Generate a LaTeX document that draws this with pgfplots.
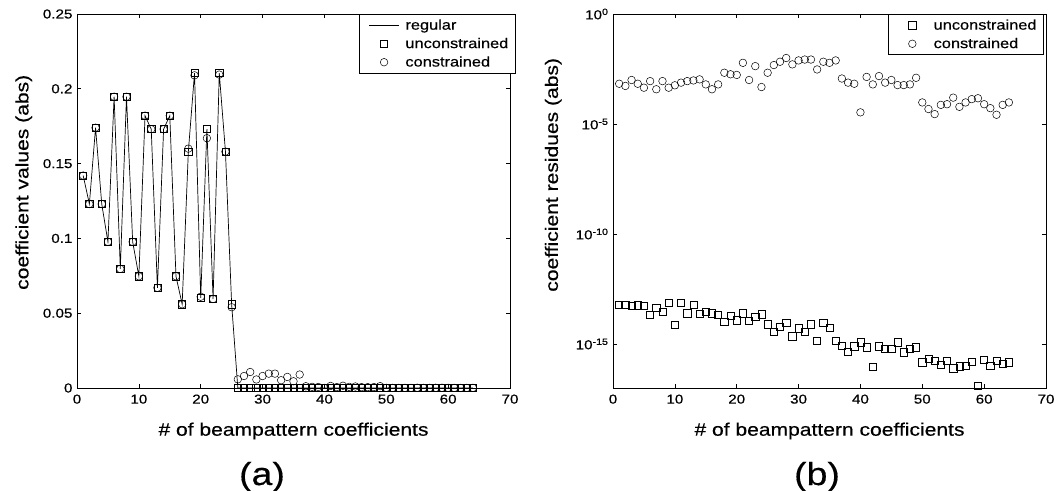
\documentclass[border=0pt]{standalone}
\usepackage{fontspec}
\setmainfont{Liberation Sans}[FakeStretch=1.17, FakeBold=0.4]
\usepackage{pgfplots}
\pgfplotsset{compat=1.18}

\pgfplotstableread{
x reg con
1 0.142 0.142
2 0.123 0.123
3 0.174 0.174
4 0.123 0.123
5 0.0977 0.0977
6 0.1947 0.1947
7 0.0796 0.0796
8 0.1947 0.1947
9 0.0977 0.0977
10 0.0747 0.0747
11 0.182 0.182
12 0.173 0.173
13 0.067 0.067
14 0.173 0.173
15 0.182 0.182
16 0.0747 0.0747
17 0.056 0.056
18 0.158 0.160
19 0.2105 0.209
20 0.0602 0.061
21 0.173 0.167
22 0.0595 0.0595
23 0.2105 0.2095
24 0.158 0.158
25 0.056 0.054
26 0 0.0058
27 0 0.0080
28 0 0.0107
29 0 0.0057
30 0 0.0080
31 0 0.0096
32 0 0.0096
33 0 0.0052
34 0 0.0074
35 0 0.0045
36 0 0.0090
37 0 0.00117
38 0 0.00076
39 0 0.00068
40 0 0.00003
41 0 0.00138
42 0 0.00063
43 0 0.00151
44 0 0.00076
45 0 0.0010
46 0 0.00059
47 0 0.00059
48 0 0.00063
49 0 0.00126
50 0 0.0000955
51 0 0.0000479
52 0 0.0000282
53 0 0.0000741
54 0 0.0000794
55 0 0.000158
56 0 0.0000603
57 0 0.0000955
58 0 0.000135
59 0 0.000148
60 0 0.0000794
61 0 0.0000525
62 0 0.0000263
63 0 0.0000741
64 0 0.0000955
}\lefttable

\pgfplotstableread{
x unc con
1 6.31e-14 6.76e-4
2 6.31e-14 5.37e-4
3 5.37e-14 1.00e-3
4 5.75e-14 6.76e-4
5 5.37e-14 4.47e-4
6 2.04e-14 8.91e-4
7 4.47e-14 3.80e-4
8 2.88e-14 8.91e-4
9 7.59e-14 4.47e-4
10 7.24e-15 5.75e-4
11 7.59e-14 7.59e-4
12 2.51e-14 8.91e-4
13 6.31e-14 9.55e-4
14 2.40e-14 1.07e-3
15 2.88e-14 6.31e-4
16 2.51e-14 3.80e-4
17 2.04e-14 6.31e-4
18 1.02e-14 2.14e-3
19 1.91e-14 1.82e-3
20 1.20e-14 1.70e-3
21 2.51e-14 6.03e-3
22 1.12e-14 1.00e-3
23 1.70e-14 4.27e-3
24 2.24e-14 4.79e-4
25 7.94e-15 2.14e-3
26 3.63e-15 4.79e-3
27 6.31e-15 6.76e-3
28 9.55e-15 1.00e-2
29 2.24e-15 5.13e-3
30 5.13e-15 7.76e-3
31 3.63e-15 8.51e-3
32 7.94e-15 8.51e-3
33 1.41e-15 3.02e-3
34 8.91e-15 6.76e-3
35 5.62e-15 6.03e-3
36 1.41e-15 7.76e-3
37 8.51e-16 1.17e-3
38 4.47e-16 7.59e-4
39 7.94e-16 6.76e-4
40 1.20e-15 3.39e-5
41 7.08e-16 1.38e-3
42 8.91e-17 6.31e-4
43 7.94e-16 1.51e-3
44 5.89e-16 7.59e-4
45 6.31e-16 1.00e-3
46 1.20e-15 5.89e-4
47 4.17e-16 5.89e-4
48 6.31e-16 6.31e-4
49 7.08e-16 1.26e-3
50 1.48e-16 9.55e-5
51 2.09e-16 4.79e-5
52 1.78e-16 2.82e-5
53 1.12e-16 7.41e-5
54 1.78e-16 7.94e-5
55 7.94e-17 1.58e-4
56 9.77e-17 6.03e-5
57 1.05e-16 9.55e-5
58 1.58e-16 1.35e-4
59 1.26e-17 1.48e-4
60 1.95e-16 7.94e-5
61 1.05e-16 5.25e-5
62 1.78e-16 2.63e-5
63 1.26e-16 7.41e-5
64 1.48e-16 9.55e-5
}\righttable

\pgfplotsset{
  common/.style={
    width=433pt, height=374pt, scale only axis,
    xmin=0, xmax=70,
    xtick={0,10,20,30,40,50,60,70},
    xticklabels={0,10,20,30,40,50,60,70},
    tick label style={font=\fontsize{13}{15}\selectfont},
    label style={font=\fontsize{18}{21}\selectfont},
    axis line style={line width=0.7pt},
    every tick/.style={black, line width=0.6pt},
    major tick length=4pt,
    minor tick num=0,
    clip=false,
    xticklabel style={yshift=-3pt},
    yticklabel style={xshift=-1pt},
    xlabel style={at={(axis description cs:0.5,-0.1275)}, anchor=base},
    legend cell align=left,
    legend style={draw=black, line width=0.6pt, fill=white,
      font=\fontsize{14}{16}\selectfont,
      inner xsep=5pt, inner ysep=1.8pt,
      nodes={inner ysep=3.4pt},
      /tikz/every even column/.append style={column sep=3pt}},
  },
  sqm/.style={only marks, mark=square, mark size=3.6pt, mark options={black, line width=0.6pt},
    legend image code/.code={\draw[#1] plot coordinates {(19pt,0pt)};
      \path (0pt,0pt) (38pt,0pt);}},
  cim/.style={only marks, mark=o, mark size=3.8pt, mark options={black, line width=0.5pt},
    legend image code/.code={\draw[#1] plot coordinates {(19pt,0pt)};
      \path (0pt,0pt) (38pt,0pt);}},
}

\begin{document}
\begin{tikzpicture}
\useasboundingbox (0pt,0pt) rectangle (1059pt,490pt);
\begin{axis}[common,
  at={(77pt,102pt)}, anchor=south west,
  ymin=0, ymax=0.25,
  ytick={0,0.05,0.1,0.15,0.2,0.25},
  yticklabels={0,0.05,0.1,0.15,0.2,0.25},
  xlabel={\# of beampattern coefficients},
  ylabel={coefficient values (abs)},
  ylabel style={at={(axis description cs:-0.123,0.55)}, anchor=center},
  legend style={at={(axis description cs:1.013,1)}, anchor=north east},
]
\addplot[black, line width=0.7pt, no marks,
  legend image code/.code={\draw[black, line width=0.7pt] (4pt,0pt) -- (34pt,0pt);\path (0pt,0pt) (38pt,0pt);}]
  table[x=x, y=reg] {\lefttable};
\addlegendentry{regular}
\addplot[sqm] table[x=x, y=reg] {\lefttable};
\addlegendentry{unconstrained}
\addplot[cim] table[x=x, y=con] {\lefttable};
\addlegendentry{constrained}
\end{axis}

\begin{axis}[common,
  at={(613pt,102pt)}, anchor=south west,
  ymode=log, ymin=1e-17, ymax=1,
  ytick={1e-15,1e-10,1e-5,1},
  yticklabels={10\textsuperscript{-15},10\textsuperscript{-10},10\textsuperscript{-5},10\textsuperscript{0}},
  xlabel={\# of beampattern coefficients},
  ylabel={coefficient residues (abs)},
  ylabel style={at={(axis description cs:-0.138,0.57)}, anchor=center},
  legend style={at={(axis description cs:0.995,1)}, anchor=north east},
]
\addplot[sqm] table[x=x, y=unc] {\righttable};
\addlegendentry{unconstrained}
\addplot[cim] table[x=x, y=con] {\righttable};
\addlegendentry{constrained}
\end{axis}

\node[anchor=base, font=\fontsize{32}{35}\selectfont] at (262pt,5pt) {(a)};
\node[anchor=base, font=\fontsize{32}{35}\selectfont] at (817pt,5pt) {(b)};
\end{tikzpicture}
\end{document}
